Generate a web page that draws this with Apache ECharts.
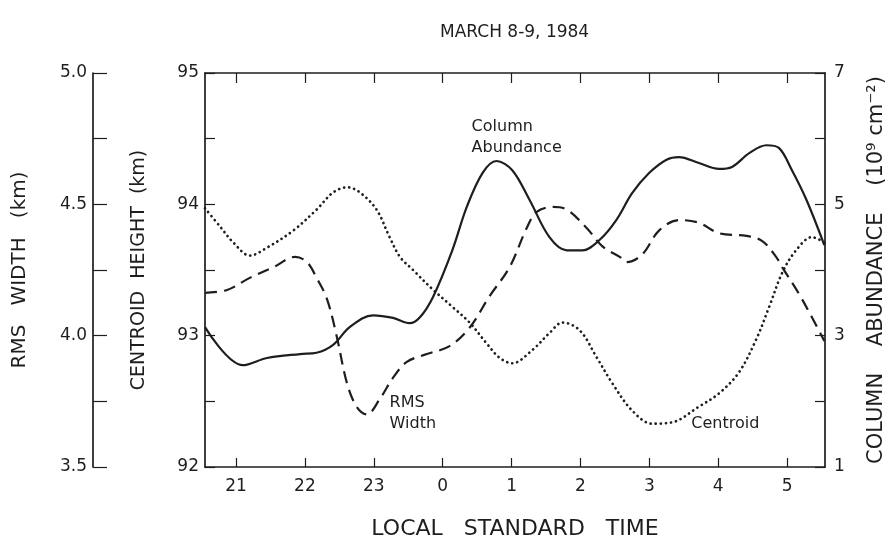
<!DOCTYPE html>
<html><head><meta charset="utf-8">
<script src="https://cdn.jsdelivr.net/npm/echarts@6/dist/echarts.min.js"></script>
<style>html,body{margin:0;padding:0;background:#fff}#c{width:895px;height:545px}</style>
</head><body><div id="c"></div>
<script>
// x in hours since 0h of March 8 (24 = midnight); labels shown mod 24
const hourTicks = [21, 22, 23, 24, 25, 26, 27, 28, 29];
const hourLabels = ['21', '22', '23', '0', '1', '2', '3', '4', '5'];

// Column abundance (10^9 cm^-2), solid line, right axis
const abundanceHours = [20.55, 21.10, 21.45, 21.93, 22.17, 22.41, 22.65, 22.99, 23.28, 23.52, 23.67, 23.86, 24.14, 24.35, 24.58, 24.78, 25.01, 25.26, 25.55, 25.80, 26.03, 26.28, 26.52, 26.75, 27.00, 27.25, 27.43, 27.72, 28.01, 28.20, 28.45, 28.70, 28.88, 29.07, 29.28, 29.54];
const abundanceValues = [3.13, 2.55, 2.66, 2.72, 2.74, 2.86, 3.13, 3.31, 3.27, 3.19, 3.28, 3.59, 4.30, 4.96, 5.48, 5.66, 5.52, 5.07, 4.50, 4.30, 4.30, 4.46, 4.76, 5.17, 5.48, 5.68, 5.72, 5.63, 5.54, 5.57, 5.78, 5.90, 5.86, 5.52, 5.07, 4.38];

// RMS width (km), dashed line, outer left axis
const rmsHours = [20.55, 20.87, 21.20, 21.54, 21.86, 22.03, 22.17, 22.32, 22.46, 22.61, 22.75, 22.90, 23.09, 23.28, 23.48, 23.77, 24.10, 24.39, 24.68, 24.97, 25.22, 25.36, 25.59, 25.80, 26.09, 26.32, 26.57, 26.67, 26.90, 27.14, 27.43, 27.72, 28.01, 28.41, 28.64, 28.84, 28.93, 29.17, 29.36, 29.54];
const rmsValues = [4.163, 4.174, 4.22, 4.26, 4.30, 4.28, 4.22, 4.14, 4.00, 3.82, 3.73, 3.70, 3.76, 3.84, 3.90, 3.93, 3.96, 4.03, 4.15, 4.26, 4.41, 4.47, 4.49, 4.48, 4.41, 4.34, 4.30, 4.28, 4.31, 4.40, 4.44, 4.43, 4.39, 4.38, 4.36, 4.30, 4.26, 4.16, 4.07, 3.98];

// Centroid height (km), dotted line, inner left axis
const centroidHours = [20.55, 20.77, 20.96, 21.20, 21.45, 21.83, 22.17, 22.41, 22.62, 22.80, 23.04, 23.23, 23.38, 23.57, 23.86, 24.14, 24.39, 24.64, 24.83, 25.01, 25.30, 25.55, 25.74, 25.99, 26.23, 26.46, 26.75, 27.04, 27.33, 27.72, 28.01, 28.30, 28.55, 28.74, 28.93, 29.13, 29.36, 29.54];
const centroidValues = [93.97, 93.83, 93.71, 93.61, 93.67, 93.80, 93.96, 94.09, 94.13, 94.09, 93.96, 93.75, 93.60, 93.50, 93.35, 93.22, 93.10, 92.94, 92.83, 92.79, 92.89, 93.02, 93.10, 93.04, 92.84, 92.64, 92.43, 92.33, 92.34, 92.46, 92.56, 92.72, 92.97, 93.22, 93.48, 93.65, 93.75, 93.71];

// annotation texts, anchored in data space: [hour, value, yAxisIndex]
const annotations = [
  { text: 'Column\nAbundance', hour: 24.42, value: 6.02, axis: 2 },
  { text: 'RMS\nWidth', hour: 23.23, value: 3.706, axis: 1 },
  { text: 'Centroid', hour: 27.61, value: 92.33, axis: 0 }
];

const FONT = 'DejaVu Sans';
const INK = '#1e1e1e';
const zip = (xs, ys) => xs.map((x, i) => [x, ys[i]]);

const chart = echarts.init(document.getElementById('c'), null, { renderer: 'canvas' });

const lineStyleAxis = { show: true, lineStyle: { color: INK, width: 1.7 } };

const option = {
  backgroundColor: '#ffffff',
  animation: false,
  textStyle: { fontFamily: FONT, color: INK },
  title: {
    text: 'MARCH 8-9, 1984',
    left: 435, top: 19,
    textStyle: { fontFamily: FONT, fontSize: 17, fontWeight: 'normal', color: INK }
  },
  grid: { left: 205, right: 69, top: 73, bottom: 78, containLabel: false },
  xAxis: [
    {
      type: 'value', min: 20.55, max: 29.55, position: 'bottom',
      axisLine: lineStyleAxis,
      axisTick: { show: true, inside: true, length: 9, customValues: hourTicks, lineStyle: { color: INK, width: 1.2 } },
      axisLabel: {
        customValues: hourTicks, margin: 11, fontSize: 17, fontFamily: FONT, color: INK,
        formatter: v => hourLabels[hourTicks.indexOf(Math.round(v))] ?? ''
      },
      splitLine: { show: false },
      name: 'LOCAL   STANDARD   TIME', nameLocation: 'middle', nameGap: 51,
      nameTextStyle: { fontFamily: FONT, fontSize: 22, color: INK }
    },
    {
      type: 'value', min: 20.55, max: 29.55, position: 'top',
      axisLine: lineStyleAxis,
      axisTick: { show: true, inside: true, length: 10, customValues: hourTicks, lineStyle: { color: INK, width: 1.2 } },
      axisLabel: { show: false },
      splitLine: { show: false }
    }
  ],
  yAxis: [
    {
      type: 'value', min: 92, max: 95, interval: 0.5, position: 'left', offset: 0,
      axisLine: lineStyleAxis,
      axisTick: { show: true, inside: true, length: 10, lineStyle: { color: INK, width: 1.2 } },
      axisLabel: {
        margin: 6, fontSize: 17, fontFamily: FONT, color: INK,
        formatter: v => (Math.abs(v - Math.round(v)) < 1e-6 ? String(Math.round(v)) : '')
      },
      splitLine: { show: false },
      name: 'CENTROID  HEIGHT  (km)', nameLocation: 'middle', nameRotate: 90, nameGap: 56,
      nameTextStyle: { fontFamily: FONT, fontSize: 19, color: INK }
    },
    {
      type: 'value', min: 3.5, max: 5.0, interval: 0.25, position: 'left', offset: 112,
      axisLine: lineStyleAxis,
      axisTick: { show: true, inside: true, length: 14, lineStyle: { color: INK, width: 1.2 } },
      axisLabel: {
        margin: 6, fontSize: 17, fontFamily: FONT, color: INK,
        formatter: v => (Math.abs(v * 2 - Math.round(v * 2)) < 1e-6 ? v.toFixed(1) : '')
      },
      splitLine: { show: false },
      name: 'RMS   WIDTH   (km)', nameLocation: 'middle', nameRotate: 90, nameGap: 63,
      nameTextStyle: { fontFamily: FONT, fontSize: 20, color: INK }
    },
    {
      type: 'value', min: 1, max: 7, interval: 1, position: 'right', offset: 0,
      axisLine: lineStyleAxis,
      axisTick: { show: true, inside: true, length: 10, lineStyle: { color: INK, width: 1.2 } },
      axisLabel: {
        margin: 9, fontSize: 17, fontFamily: FONT, color: INK,
        formatter: v => (Math.round(v) % 2 === 1 ? String(Math.round(v)) : '')
      },
      splitLine: { show: false },
      name: 'COLUMN    ABUNDANCE    (10⁹ cm⁻²)', nameLocation: 'middle', nameRotate: 90, nameGap: 41,
      nameTextStyle: { fontFamily: FONT, fontSize: 21, color: INK }
    }
  ],
  series: [
    {
      name: 'Column Abundance', type: 'line', xAxisIndex: 0, yAxisIndex: 2,
      data: zip(abundanceHours, abundanceValues), showSymbol: false, smooth: 0.35,
      lineStyle: { color: INK, width: 2.2 }, z: 3
    },
    {
      name: 'RMS Width', type: 'line', xAxisIndex: 0, yAxisIndex: 1,
      data: zip(rmsHours, rmsValues), showSymbol: false, smooth: 0.35,
      lineStyle: { color: INK, width: 2.2, type: [12, 7] }, z: 3
    },
    {
      name: 'Centroid', type: 'line', xAxisIndex: 0, yAxisIndex: 0,
      data: zip(centroidHours, centroidValues), showSymbol: false, smooth: 0.35,
      lineStyle: { color: INK, width: 2.7, type: [0.1, 5], cap: 'round' }, z: 3
    }
  ]
};

chart.setOption(option);

const graphics = annotations.map(a => {
  const p = chart.convertToPixel({ xAxisIndex: 0, yAxisIndex: a.axis }, [a.hour, a.value]);
  return {
    type: 'text', x: p[0], y: p[1], z: 10,
    style: {
      text: a.text, fill: INK, font: '16px "' + FONT + '"',
      textAlign: 'left', textVerticalAlign: 'middle', lineHeight: 21
    }
  };
});
chart.setOption({ graphic: graphics });
</script>
</body></html>
